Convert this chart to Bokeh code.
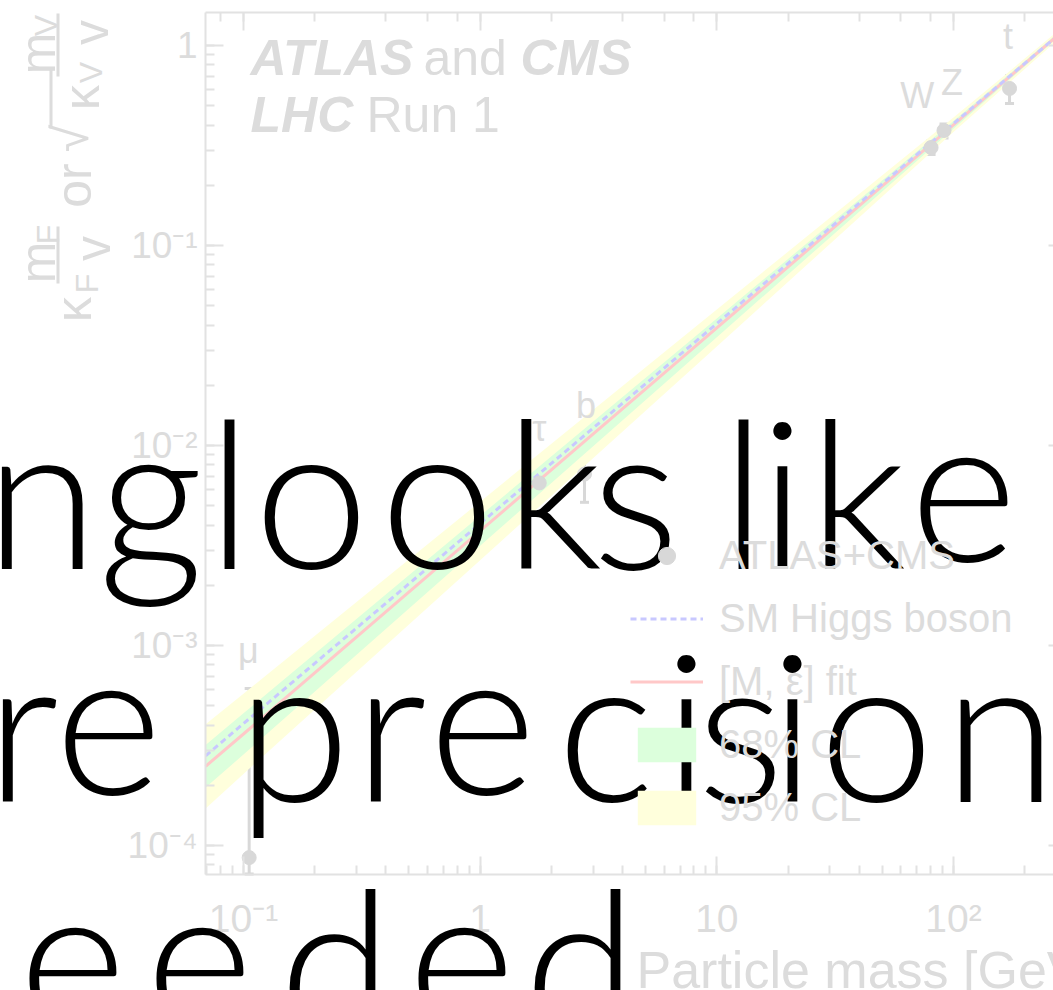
import math
from bokeh.plotting import figure
from bokeh.models import (LogAxis, Range1d, Whisker, TeeHead, Label, Legend, LegendItem,
                          ColumnDataSource, CustomJSTickFormatter, BoxAnnotation)
from bokeh.core.properties import value
from bokeh.embed import file_html
from bokeh.resources import INLINE

# ---- measured reduced couplings versus particle mass -------------------------
particles = ["μ", "τ", "b", "W", "Z", "t"]
mass = [0.1057, 1.777, 2.76, 80.4, 91.19, 172.5]
coupling = [8.7e-5, 6.5e-3, 7.2e-3, 0.309, 0.376, 0.61]
coupling_lo = [7.2e-5, 5.8e-3, 5.2e-3, 0.285, 0.345, 0.513]
coupling_hi = [6.1e-4, 7.3e-3, 1.0e-2, 0.335, 0.405, 0.708]

# ---- reference curves sampled along the mass axis ----------------------------
curve_mass = [0.0692, 0.1, 1, 10, 100, 300]
sm_curve = [2.81e-4, 4.07e-4, 4.07e-3, 4.07e-2, 0.407, 1.22]
fit_curve = [2.49e-4, 3.61e-4, 3.74e-3, 3.87e-2, 0.401, 1.223]
cl68_lo = [1.95e-4, 2.85e-4, 3.15e-3, 3.48e-2, 0.384, 1.195]
cl68_hi = [3.18e-4, 4.58e-4, 4.45e-3, 4.32e-2, 0.419, 1.252]
cl95_lo = [1.53e-4, 2.28e-4, 2.67e-3, 3.13e-2, 0.369, 1.168]
cl95_hi = [4.04e-4, 5.74e-4, 5.24e-3, 4.79e-2, 0.436, 1.281]

# particle tags placed near their points
tag_x = [0.105, 1.78, 2.8, 70.2, 98.6, 170.0]
tag_y = [9.4e-4, 1.22e-2, 1.58e-2, 0.562, 0.653, 1.11]

# plotted region of the chart
X_LO, X_HI = 0.0692, 264.6
Y_LO, Y_HI = 7.16e-5, 1.462
X_RIGHT_EDGE = 306.0   # right frame edge, just past the visible canvas

W, H = 1053, 990
FADE_TEXT = "#dcdcdc"
FADE_AXIS = "#e2e2e2"
ROOT_FONT = "Liberation Sans"

# The frame fills the whole canvas; the axes sit at fixed positions inside it,
# so that the overlaid slide text can run across the margins as well.
p = figure(width=W, height=H, x_axis_type="log", y_axis_type="log",
           x_range=Range1d(9.405e-3, 264.6), y_range=Range1d(1.884e-5, 1.679),
           output_backend="svg", toolbar_location=None, min_border=0)
p.outline_line_color = None
p.xgrid.visible = False
p.ygrid.visible = False
p.background_fill_color = "white"

fmt = CustomJSTickFormatter(code="""
const e = Math.round(Math.log10(tick));
if (e === 0) return "1";
if (e === 1) return "10";
const sup = {"-": "\u207b", "0": "\u2070", "1": "\u00b9", "2": "\u00b2", "3": "\u00b3",
             "4": "\u2074", "5": "\u2075"};
return "10" + String(e).split("").map(c => sup[c]).join("");
""")
blank = CustomJSTickFormatter(code="return '';")

def style_axis(ax, major_in=18, minor_in=9):
    ax.axis_line_color = FADE_AXIS
    ax.axis_line_width = 2
    ax.major_tick_line_color = FADE_AXIS
    ax.minor_tick_line_color = FADE_AXIS
    ax.major_tick_line_width = 2
    ax.minor_tick_line_width = 2
    ax.major_tick_in = major_in
    ax.major_tick_out = 0
    ax.minor_tick_in = minor_in
    ax.minor_tick_out = 0
    ax.major_label_text_color = FADE_TEXT
    ax.major_label_text_font = ROOT_FONT

xa = p.xaxis[0]
style_axis(xa)
xa.formatter = fmt
xa.fixed_location = Y_LO
xa.bounds = (X_LO, X_HI)
xa.major_label_text_font_size = "39px"
xa.major_label_standoff = 22

ya = p.yaxis[0]
style_axis(ya)
ya.formatter = fmt
ya.fixed_location = X_LO
ya.bounds = (Y_LO, Y_HI)
ya.major_label_text_font_size = "37px"
ya.major_label_standoff = 8

# top and right edges: ticks only
top = LogAxis(formatter=blank, fixed_location=Y_HI, bounds=(X_LO, X_HI))
style_axis(top)
top.major_label_standoff = 0
p.add_layout(top, "above")

right = LogAxis(formatter=blank, fixed_location=X_RIGHT_EDGE, bounds=(Y_LO, Y_HI))
style_axis(right, major_in=20, minor_in=10)
right.major_label_standoff = 0
p.add_layout(right, "right")

# confidence bands, fit and SM expectation
band95 = p.varea(x=curve_mass, y1=cl95_lo, y2=cl95_hi, fill_color="#ffffdc")
band68 = p.varea(x=curve_mass, y1=cl68_lo, y2=cl68_hi, fill_color="#dcffdc")
fit = p.line(curve_mass, fit_curve, line_color="#ffc8c8", line_width=3)
sm = p.line(curve_mass, sm_curve, line_color="#c8c8ff", line_width=3, line_dash="6 4")

# measurements with uncertainties
src = ColumnDataSource(dict(m=mass, k=coupling, lo=coupling_lo, hi=coupling_hi))
err = Whisker(base="m", lower="lo", upper="hi", source=src, line_color="#d8d8d8", line_width=3,
              upper_head=TeeHead(size=9, line_color="#d8d8d8", line_width=3),
              lower_head=TeeHead(size=9, line_color="#d8d8d8", line_width=3))
p.add_layout(err)
pts = p.scatter("m", "k", source=src, size=14, color="#d8d8d8")

p.text(x=tag_x, y=tag_y, text=particles, text_font=value(ROOT_FONT), text_font_size="36px",
       text_color=FADE_TEXT, text_align="center", text_baseline="middle")

legend = Legend(items=[
    LegendItem(label="ATLAS+CMS", renderers=[pts]),
    LegendItem(label="SM Higgs boson", renderers=[sm]),
    LegendItem(label="[M, ε] fit", renderers=[fit]),
    LegendItem(label="68% CL", renderers=[band68]),
    LegendItem(label="95% CL", renderers=[band95]),
], location=(630, 160), padding=0, margin=0, spacing=18, glyph_width=73, glyph_height=43,
   label_height=43, label_standoff=16, label_text_font=ROOT_FONT, label_text_font_size="40px",
   label_text_color=FADE_TEXT, background_fill_alpha=0, border_line_color=None)
p.add_layout(legend, "center")


def put(text, x, y, size, color=FADE_TEXT, font=ROOT_FONT, style="normal", align="left",
        baseline="alphabetic", angle=0.0):
    """Place text by canvas position (x from the left edge, y from the top edge)."""
    dy = H - y
    if baseline == "alphabetic":
        dy += 0.38 * size
    p.add_layout(Label(x=x, y=dy, x_units="screen", y_units="screen", text=text,
                       text_font=font, text_font_size=f"{size}px", text_font_style=style,
                       text_color=color, text_align=align, text_baseline=baseline, angle=angle))


def bar(x0, x1, y0, y1):
    """Thin filled bar given by canvas edges."""
    p.add_layout(BoxAnnotation(left=x0, right=x1, top=H - y0, bottom=H - y1,
                               left_units="screen", right_units="screen",
                               top_units="screen", bottom_units="screen",
                               fill_color=FADE_TEXT, fill_alpha=1, line_color=None))

# experiment tag
put("ATLAS", 250, 76, 50, style="bold italic")
put("and", 423, 76, 50)
put("CMS", 520, 76, 50, style="bold italic")
put("LHC", 250, 133, 50, style="bold italic")
put("Run 1", 366, 133, 50)

# axis titles
put("Particle mass [GeV]", 636, 989, 52)
R = math.pi / 2
for txt, cx, cy, sz in [("κ", 73, 309, 50), ("F", 86, 283, 32),
                        ("m", 37, 262, 50), ("F", 47, 234, 32), ("v", 92, 248, 50),
                        ("or", 73, 185, 50), ("√", 70, 138, 50),
                        ("κ", 81, 97, 50), ("V", 90, 72, 32),
                        ("m", 37, 53, 50), ("V", 45, 25, 32), ("v", 90, 32, 50)]:
    put(txt, cx, cy, sz, align="center", baseline="middle", angle=R)
bar(56, 59, 226, 283)
bar(56, 59, 13, 76)
bar(49, 52, 68, 128)

# slide text over the chart, set letter by letter in a wide geometric rhythm
BIG = "'Lato Light', Lato"
BIG_SIZE = 206

def spaced(word, centers, baseline):
    for ch, cx in zip(word, centers):
        put(ch, cx, baseline, BIG_SIZE, color="black", font=BIG, align="center")

put("ng", 203, 567, BIG_SIZE, color="black", font=BIG, align="right")
spaced("looks", [229, 311, 437, 553, 635], 567)
spaced("like", [743, 782, 857, 963], 567)
spaced("re", [22, 108], 800)
spaced("precision", [293, 390, 482, 605, 686, 740, 792, 876, 1000], 800)
spaced("eeded", [72, 199, 335, 461, 580], 1037)

open("out.html", "w").write(file_html(p, INLINE))
